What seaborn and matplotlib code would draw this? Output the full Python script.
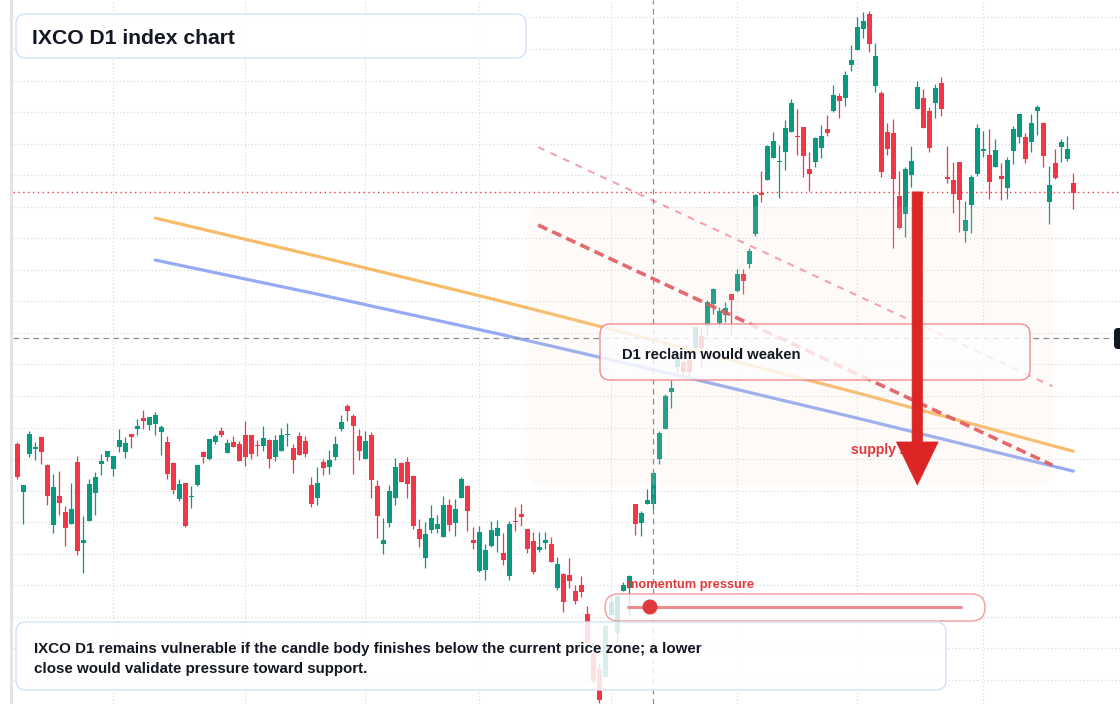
import numpy as np
import pandas as pd
import seaborn as sns
import matplotlib.pyplot as plt
from matplotlib.patches import FancyBboxPatch, Circle
from matplotlib.transforms import IdentityTransform

# daily candles, oldest first
opens = [174.8, 159.6, 171.7, 173.3, 177.0, 168.1, 149.2, 158.3, 153.2, 149.5,
         169.0, 143.5, 150.4, 159.3, 168.5, 170.6, 166.9, 173.9, 172.3, 177.9,
         179.6, 183.0, 180.9, 181.2, 178.6, 175.4, 168.7, 157.4, 162.4, 158.0,
         161.8, 172.2, 170.0, 175.4, 178.9, 171.9, 175.4, 174.8, 177.6, 177.6,
         174.4, 174.1, 176.0, 170.6, 172.5, 177.6, 173.5, 177.3, 175.7, 161.8,
         157.6, 169.0, 167.5, 170.6, 179.5, 186.8, 183.6, 177.3, 170.0, 177.6,
         161.4, 143.1, 149.7, 157.6, 168.7, 169.0, 164.6, 147.8, 138.6, 147.5,
         147.8, 145.3, 155.4, 149.7, 157.6, 161.4, 144.3, 134.5, 134.8, 142.4,
         145.6, 140.2, 132.9, 150.3, 152.6, 147.8, 144.0, 141.1, 143.4, 143.1,
         129.1, 133.5, 133.2, 128.2, 130.1, 120.9, 108.2, 103.5, 101.0, 120.6,
         114.9, 128.2, 129.1, 155.7, 149.7, 155.7, 155.7, 170.0, 179.5, 191.2,
         199.2, 200.8, 201.4, 205.1, 209.0, 212.2, 219.3, 213.0, 215.6, 222.3,
         223.3, 228.6, 231.9, 241.5, 254.4, 258.5, 265.5, 264.2, 267.4, 273.8,
         272.4, 275.3, 261.9, 264.2, 268.7, 274.6, 280.3, 285.1, 284.5, 295.0,
         299.8, 306.4, 311.1, 288.4, 285.9, 273.8, 273.4, 253.4, 247.8, 260.1,
         281.1, 284.4, 280.3, 283.0, 289.2, 259.2, 258.4, 264.2, 242.4, 250.6,
         260.4, 267.8, 266.4, 262.7, 259.7, 256.0, 267.8, 272.2, 272.1, 270.6,
         280.3, 276.5, 251.6, 263.8, 269.0, 265.2, 257.5]
highs = [175.4, 161.8, 178.9, 175.4, 177.0, 168.4, 165.2, 166.2, 155.1, 162.4,
         170.9, 151.9, 163.7, 166.0, 171.6, 172.5, 170.9, 179.5, 177.0, 177.9,
         182.7, 185.5, 183.3, 184.9, 180.8, 177.3, 169.0, 163.7, 162.4, 161.4,
         168.1, 172.5, 176.3, 177.9, 180.1, 176.3, 177.3, 175.7, 182.0, 177.6,
         176.0, 180.5, 176.3, 177.6, 179.8, 181.4, 174.8, 178.6, 177.3, 164.3,
         167.5, 170.0, 172.8, 177.3, 183.9, 187.4, 184.3, 179.5, 178.9, 178.6,
         163.3, 151.3, 161.8, 170.3, 169.0, 170.6, 164.9, 151.0, 150.0, 155.4,
         152.2, 158.3, 157.3, 157.3, 164.3, 161.8, 148.4, 148.8, 143.1, 150.3,
         150.7, 146.5, 150.3, 154.8, 155.7, 147.8, 146.9, 146.9, 146.9, 145.3,
         138.9, 133.8, 138.6, 130.1, 132.9, 123.4, 111.7, 105.4, 117.1, 126.9,
         126.6, 131.0, 133.2, 155.7, 153.5, 160.5, 165.9, 179.0, 190.6, 195.0,
         203.6, 201.4, 203.0, 212.0, 212.0, 220.4, 224.3, 218.3, 219.8, 222.3,
         230.2, 230.2, 236.9, 254.0, 261.3, 269.5, 273.7, 269.5, 277.5, 284.1,
         281.0, 275.3, 267.3, 272.1, 275.9, 279.1, 288.6, 286.0, 293.0, 301.3,
         310.1, 311.7, 312.0, 301.9, 286.8, 276.6, 277.8, 261.3, 262.6, 269.2,
         289.8, 287.3, 281.6, 288.9, 291.1, 269.2, 264.2, 264.2, 251.8, 260.0,
         276.2, 274.0, 274.6, 271.5, 263.8, 265.7, 275.6, 279.4, 273.4, 279.4,
         282.2, 276.8, 262.9, 268.3, 271.5, 272.4, 260.7]
lows = [163.6, 149.6, 170.7, 169.8, 168.5, 155.5, 146.6, 152.3, 142.5, 149.5,
        139.7, 134.0, 150.4, 152.3, 165.0, 169.5, 164.7, 172.3, 170.4, 173.6,
        177.7, 179.6, 179.3, 177.7, 171.4, 163.8, 159.0, 156.8, 148.5, 154.6,
        161.4, 168.7, 169.7, 174.8, 177.0, 171.9, 173.8, 169.4, 167.8, 170.0,
        170.9, 172.5, 167.1, 169.4, 172.5, 174.1, 165.6, 171.3, 170.6, 154.8,
        155.4, 164.9, 165.2, 169.7, 178.9, 182.0, 165.2, 169.7, 170.0, 157.6,
        145.0, 139.9, 148.4, 155.4, 162.7, 157.6, 147.8, 142.1, 135.4, 146.5,
        146.5, 145.3, 147.2, 145.6, 157.6, 147.2, 141.5, 134.2, 131.6, 142.1,
        140.5, 136.4, 131.6, 147.2, 148.8, 140.2, 133.5, 140.5, 141.5, 137.4,
        128.5, 121.6, 129.1, 124.1, 126.2, 110.5, 99.0, 92.7, 101.0, 120.6,
        111.7, 128.2, 120.6, 146.0, 145.6, 155.7, 154.2, 168.5, 179.5, 186.2,
        197.6, 195.7, 196.1, 203.5, 199.3, 209.3, 216.1, 211.5, 213.5, 209.3,
        223.0, 222.2, 230.6, 240.8, 251.6, 258.5, 265.5, 252.8, 261.7, 273.8,
        266.5, 259.5, 255.1, 262.7, 265.5, 272.5, 280.0, 278.2, 282.0, 293.1,
        299.8, 303.6, 299.1, 286.5, 259.3, 266.4, 236.9, 243.0, 240.5, 256.3,
        281.1, 275.0, 267.4, 278.2, 278.8, 257.6, 248.1, 242.1, 238.9, 241.7,
        259.8, 265.8, 252.5, 262.7, 252.2, 252.5, 263.6, 270.3, 263.9, 267.4,
        272.8, 262.7, 244.6, 258.9, 264.2, 264.6, 249.3]
closes = [164.4, 161.8, 177.9, 173.9, 172.3, 158.4, 161.1, 156.1, 148.2, 154.1,
          140.9, 144.3, 162.1, 164.3, 169.4, 172.5, 170.9, 176.0, 175.1, 177.1,
          180.5, 182.1, 183.3, 183.9, 180.1, 165.3, 160.3, 162.1, 148.9, 158.4,
          168.1, 170.6, 176.3, 177.3, 177.6, 175.1, 173.8, 169.4, 170.6, 171.6,
          174.1, 176.7, 170.0, 176.0, 177.6, 177.9, 169.7, 171.3, 171.6, 155.7,
          162.4, 167.1, 169.7, 174.8, 181.7, 185.2, 180.5, 172.5, 175.7, 163.3,
          151.9, 144.3, 159.9, 167.5, 162.7, 162.1, 148.8, 144.6, 146.2, 151.3,
          149.4, 155.4, 149.1, 154.1, 163.7, 153.5, 143.4, 146.9, 141.1, 147.5,
          148.1, 138.0, 149.4, 150.0, 151.6, 141.5, 134.2, 142.1, 144.3, 137.4,
          136.7, 124.8, 131.3, 125.1, 127.9, 111.6, 99.8, 93.7, 117.1, 124.7,
          126.6, 130.1, 132.9, 149.4, 152.9, 157.0, 165.6, 178.2, 190.0, 192.5,
          202.0, 197.6, 197.7, 212.0, 205.1, 219.9, 224.0, 216.9, 218.0, 220.6,
          228.6, 226.5, 235.9, 253.7, 253.8, 269.2, 270.8, 264.6, 274.9, 282.9,
          272.1, 266.2, 260.4, 271.8, 272.4, 273.5, 285.4, 283.6, 291.7, 296.5,
          307.0, 308.9, 301.7, 297.8, 261.1, 268.3, 258.9, 243.3, 262.0, 264.5,
          287.9, 275.0, 268.7, 287.6, 281.1, 258.9, 254.1, 252.2, 245.8, 259.4,
          274.9, 268.0, 257.9, 268.0, 258.9, 264.8, 274.6, 279.4, 265.2, 276.5,
          281.6, 266.2, 256.9, 259.2, 270.5, 268.3, 254.4]

# moving averages (sampled at candle index)
ma_idx = [23, 50, 80, 110, 140, 176]
ma_fast = [246.4, 234.3, 220.4, 205.8, 191.0, 172.5]
ma_slow = [233.1, 222.3, 209.8, 196.6, 183.0, 166.2]

# descending trend lines
trend_idx = [86.8, 172.5]
trend_upper = [268.9, 193.1]
trend_lower = [244.2, 168.1]

current_price = 254.7
cross_price = 208.4
cross_idx = 106
zone_idx = [85.0, 172.5]
zone_price = [161.8, 249.9]
arrow_idx = 150
month_idx = [16, 38, 58, 77, 99, 120, 140, 161]

GREEN = '#089981'
RED = '#f23645'
INK = '#131722'
W, H = 1120, 704

sns.set_theme(style='white')
plt.rcParams['font.family'] = ['Liberation Sans', 'DejaVu Sans']

fig = plt.figure(figsize=(W / 100, H / 100), dpi=100)
ax = fig.add_axes([13 / W, 0, 1 - 13 / W, 1])
ax.set_xlim(-0.717, 183.78)
ax.set_ylim(92.39, 315.53)

ax.set_xticks(month_idx)
ax.set_yticks(np.arange(100, 320, 10))
ax.grid(True, color='#d3d5da', ls=(0, (1, 2.2)), lw=0.8)
ax.set_axisbelow(True)
ax.tick_params(length=0, labelleft=False, labelbottom=False)
for s in ax.spines.values():
    s.set_visible(False)

df = pd.DataFrame({'o': opens, 'h': highs, 'l': lows, 'c': closes})
df['i'] = np.arange(len(df))
cols = np.where(df.c >= df.o, GREEN, RED)
ax.vlines(df.i, df.l, df.h, colors=cols, lw=0.9, zorder=2)
ax.bar(df.i, np.maximum((df.c - df.o).abs(), 0.4), bottom=np.minimum(df.o, df.c),
       width=0.8, color=cols, linewidth=0, zorder=2.1)

sns.lineplot(x=ma_idx, y=ma_fast, color='#f6b559', lw=2.3, alpha=0.9, ax=ax, zorder=3)
sns.lineplot(x=ma_idx, y=ma_slow, color='#8ea6f2', lw=2.3, alpha=0.95, ax=ax, zorder=3)


def pix(x, y):
    return ax.transData.transform((x, y))


# supply zone
(zx0, zy0), (zx1, zy1) = pix(zone_idx[0], zone_price[0]), pix(zone_idx[1], zone_price[1])
ax.add_patch(FancyBboxPatch((zx0, zy0), zx1 - zx0, zy1 - zy0,
                            boxstyle='round,pad=0,rounding_size=14', transform=IdentityTransform(),
                            fc='#f0ddcc', alpha=0.12, lw=0, zorder=4))

sns.lineplot(x=trend_idx, y=trend_upper, color='#f3a3ab', lw=1.5, ls=(0, (3.3, 3.3)),
             ax=ax, zorder=5)
sns.lineplot(x=trend_idx, y=trend_lower, color='#e25a5e', alpha=0.9, lw=2.6,
             ls=(0, (2.8, 1.5)), ax=ax, zorder=5)

ax.axhline(current_price, color=RED, lw=1.0, ls=(0, (1, 2.5)), zorder=5)
ax.axhline(cross_price, color='#8a8d96', lw=0.9, ls=(0, (4.5, 3.5)), zorder=5)
ax.axvline(cross_idx, color='#8a8d96', lw=0.9, ls=(0, (4.5, 3.5)), zorder=5)


def box(x0, y0, x1, y1, r, fc, ec, lw=1.0, z=6):
    ax.add_patch(FancyBboxPatch((x0, H - y1), x1 - x0, y1 - y0,
                                boxstyle=f'round,pad=0,rounding_size={r}',
                                transform=IdentityTransform(), fc=fc, ec=ec, lw=lw, zorder=z,
                                clip_on=False))


def label(x, y, s, size, color=INK):
    ax.text(x, H - y - 2, s, transform=IdentityTransform(), fontsize=size, fontweight='bold',
            color=color, va='center', ha='left', zorder=8)


# left rail and right price tag
box(10, -5, 13, H + 5, 0, '#e3e4e6', 'none', lw=0, z=6)
box(1114, 328, 1150, 349, 4, INK, 'none', lw=0, z=6)

# annotation boxes
box(16, 14, 526, 58, 10, (1, 1, 1, 0.97), '#d3e0f6')
label(32, 36, 'IXCO D1 index chart', 15.2)

box(600, 324, 1030, 380, 10, (1, 1, 1, 0.8), '#ee8c8f')
label(622, 353, 'D1 reclaim would weaken', 10.6)

box(605, 594, 985, 621, 13.5, (1, 1, 1, 0.8), '#f09a9d')
ax.plot([627, 962], [H - 607, H - 607], transform=IdentityTransform(), color='#ec8a8c',
        lw=2.2, solid_capstyle='butt', zorder=7)
ax.add_patch(Circle((650, H - 607), 6.8, transform=IdentityTransform(), color='#e0393b', zorder=7.5))
label(627, 583, 'momentum pressure', 9.3, '#e0393b')

box(16, 622, 946, 690, 10, (1, 1, 1, 0.85), '#d3e0f6')
label(34, 647, 'IXCO D1 remains vulnerable if the candle body finishes below the current price zone; a lower', 10.9)
label(34, 667, 'close would validate pressure toward support.', 10.9)

label(851, 448, 'supply zone', 10, '#e0393b')

# downside arrow from current price into the zone
ax.annotate('', xy=(arrow_idx, zone_price[0]), xytext=(arrow_idx, current_price),
            arrowprops=dict(arrowstyle='simple,head_length=3.1,head_width=3.0,tail_width=0.75',
                            mutation_scale=10, fc='#dc2626', ec='#dc2626', lw=0.5,
                            shrinkA=0, shrinkB=0),
            zorder=9)

fig.savefig('out.png', dpi=100)
